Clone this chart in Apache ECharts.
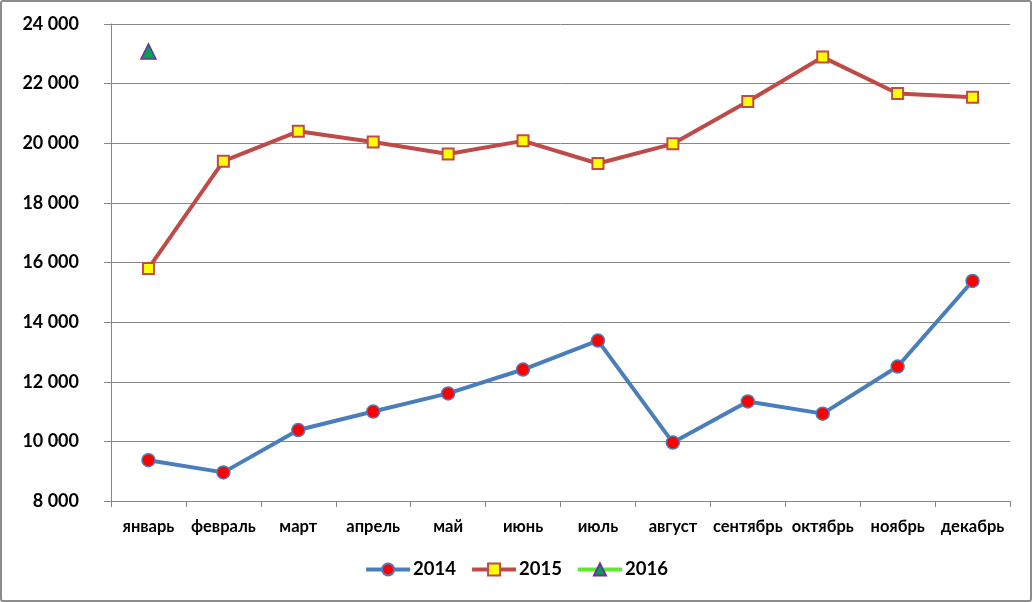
<!DOCTYPE html>
<html><head><meta charset="utf-8">
<script src="https://cdn.jsdelivr.net/npm/echarts@6/dist/echarts.min.js"></script>
<style>
html,body{margin:0;padding:0;background:#fff;}
#c{width:1032px;height:602px;box-sizing:border-box;border:2px solid #8c8c8c;border-radius:3px;}
</style></head>
<body><div id="c"></div>
<script>
var categories = ['январь','февраль','март','апрель','май','июнь','июль','август','сентябрь','октябрь','ноябрь','декабрь'];
var s2014 = [9370, 8960, 10380, 11000, 11610, 12410, 13380, 9960, 11340, 10930, 12510, 15380];
var s2015 = [15800, 19400, 20400, 20040, 19640, 20080, 19320, 19980, 21400, 22890, 21670, 21540];
var s2016 = [23080, null, null, null, null, null, null, null, null, null, null, null];
var seriesNames = ['2014', '2015', '2016'];

var chart = echarts.init(document.getElementById('c'));
var font = 'Lato, "Open Sans", "DejaVu Sans", sans-serif';
chart.setOption({
  animation: false,
  grid: {left: 109, right: 20, top: 22, bottom: 99, containLabel: false},
  legend: {
    bottom: 16, left: 'center', itemWidth: 44, itemHeight: 15, itemGap: 14,
    lineStyle: {width: 4},
    textStyle: {fontFamily: font, fontWeight: 'bold', fontSize: 18.5, color: '#000', padding: [0, 0, 0, -2]},
    data: seriesNames
  },
  xAxis: {
    type: 'category', data: categories, boundaryGap: true,
    axisLine: {lineStyle: {color: '#868686', width: 1}},
    axisTick: {show: true, length: 6, lineStyle: {color: '#868686'}},
    axisLabel: {fontFamily: font, fontWeight: 'bold', fontSize: 16.5, color: '#000', margin: 17, interval: 0}
  },
  yAxis: {
    type: 'value', min: 8000, max: 24000, interval: 2000,
    axisLine: {show: true, lineStyle: {color: '#868686'}},
    axisTick: {show: true, length: 7, lineStyle: {color: '#868686'}},
    splitLine: {lineStyle: {color: '#868686', width: 1}},
    axisLabel: {fontFamily: font, fontWeight: 'bold', fontSize: 18, color: '#000', margin: 32,
      formatter: function(v){ return String(v).replace(/\B(?=(\d{3})+(?!\d))/g, ' '); }}
  },
  series: [
    {name: seriesNames[0], type: 'line', data: s2014, symbol: 'circle', symbolSize: 13,
      lineStyle: {color: '#4A7EBB', width: 4},
      itemStyle: {color: '#FF0000', borderColor: '#4A7EBB', borderWidth: 1.5}},
    {name: seriesNames[1], type: 'line', data: s2015, symbol: 'rect', symbolSize: 11,
      lineStyle: {color: '#BE4B48', width: 4},
      itemStyle: {color: '#FFFF00', borderColor: '#BE4B48', borderWidth: 2}},
    {name: seriesNames[2], type: 'line', data: s2016, symbol: 'triangle', symbolSize: 15,
      lineStyle: {color: '#5EE82E', width: 4},
      itemStyle: {color: '#00A050', borderColor: '#7030A0', borderWidth: 1.5}}
  ]
});
</script></body></html>
